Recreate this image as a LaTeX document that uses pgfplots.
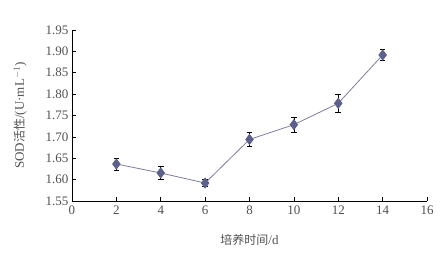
\documentclass[border=0pt]{standalone}
\usepackage{pgfplots}
\pgfplotsset{compat=1.18}
\usepackage{fontspec}
\setmainfont{Liberation Serif}
\newfontfamily\cjk{Noto Sans CJK SC}
\definecolor{txt}{RGB}{80,80,80}
\definecolor{mk}{RGB}{92,96,140}
\definecolor{ln}{RGB}{125,125,155}
\begin{document}
\begin{tikzpicture}
\path[use as bounding box] (-72pt,-52pt) rectangle (374pt,201pt);
\begin{axis}[
  at={(0,0)}, anchor=south west,
  scale only axis, width=355pt, height=171pt,
  xmin=0, xmax=16, ymin=1.55, ymax=1.95,
  axis lines*=left,
  axis line style={black, line width=0.8pt},
  tick align=inside, major tick length=4pt,
  tick style={black, line width=0.6pt},
  xtick={0,2,...,16},
  ytick={1.55,1.60,...,1.96},
  yticklabel style={/pgf/number format/.cd, fixed, fixed zerofill, precision=2},
  /pgf/number format/assume math mode=true,
  ticklabel style={font=\fontsize{13}{15}\selectfont, text=txt},
  xticklabel style={yshift=-1pt},
  xlabel={{\cjk\fontsize{12}{14}\selectfont 培养时间}/d},
  ylabel={SOD{\cjk\fontsize{12}{14}\selectfont 活性}/(U·mL$^{-1}$)},
  label style={font=\fontsize{13}{15}\selectfont, text=txt},
  xlabel style={at={(axis description cs:0.5,-0.228)}, anchor=center},
  ylabel style={at={(axis description cs:-0.146,0.5)}, anchor=center},
  clip=false,
]
\addplot[color=ln, line width=0.8pt, mark=diamond*, mark size=5pt,
  mark options={fill=mk, draw=mk},
  error bars/.cd, y dir=both, y explicit,
  error bar style={black, line width=0.7pt},
  error mark options={rotate=90, mark size=2.8pt, black, line width=0.7pt}]
coordinates {
(2,1.6365) +- (0,0.014)
(4,1.6155) +- (0,0.015)
(6,1.592) +- (0,0.008)
(8,1.694) +- (0,0.016)
(10,1.7286) +- (0,0.0175)
(12,1.7785) +- (0,0.021)
(14,1.8915) +- (0,0.013)
};
\end{axis}
\end{tikzpicture}
\end{document}
